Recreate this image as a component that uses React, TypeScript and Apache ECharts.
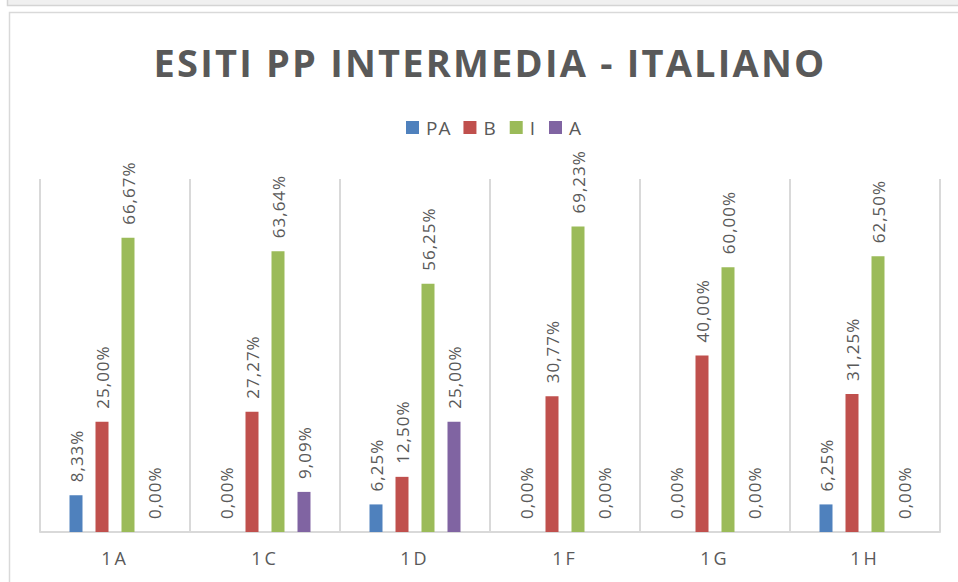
import React, { useEffect, useRef } from "react";
import * as echarts from "echarts";

const titleText = "ESITI PP INTERMEDIA - ITALIANO";
const categories = ["1A", "1C", "1D", "1F", "1G", "1H"];
const seriesNames = ["PA", "B", "I", "A"];
const paValues = [8.33, 0, 6.25, 0, 0, 6.25];
const bValues = [25.0, 27.27, 12.5, 30.77, 40.0, 31.25];
const iValues = [66.67, 63.64, 56.25, 69.23, 60.0, 62.5];
const aValues = [0, 9.09, 25.0, 0, 0, 0];
const seriesValues = [paValues, bValues, iValues, aValues];
const colors = ["#4f81bd", "#c0504d", "#9bbb59", "#8064a2"];

const TEXT = "#595959";
const FONT = "'Open Sans', sans-serif";

export default function App() {
  const ref = useRef<HTMLDivElement>(null);

  useEffect(() => {
    if (!ref.current) return;
    const chart = echarts.init(ref.current, null, { renderer: "svg" });
    const option: any = {
      animation: false,
      backgroundColor: "#ffffff",
      title: {
        text: titleText,
        left: 485,
        top: 38,
        textAlign: "center",
        textStyle: {
          fontFamily: FONT,
          fontSize: 38,
          fontWeight: "bold",
          color: TEXT,
        },
      },
      legend: {
        data: seriesNames,
        left: 406,
        top: 118,
        padding: 0,
        icon: "rect",
        itemWidth: 13,
        itemHeight: 13,
        itemGap: 14,
        textStyle: {
          fontFamily: FONT,
          fontSize: 19,
          color: TEXT,
          padding: [0, 0, 0, 2],
        },
      },
      grid: {
        left: 40,
        right: 18,
        top: 179,
        bottom: 50,
        containLabel: false,
      },
      xAxis: {
        type: "category",
        data: categories,
        boundaryGap: true,
        axisLine: { show: true, lineStyle: { color: "#d9d9d9", width: 2 } },
        axisTick: { show: false },
        axisLabel: {
          fontFamily: FONT,
          fontSize: 18,
          color: TEXT,
          margin: 17,
        },
        splitLine: {
          show: true,
          interval: 0,
          lineStyle: { color: "#d9d9d9", width: 2 },
        },
      },
      yAxis: {
        type: "value",
        min: 0,
        max: 80,
        interval: 10,
        show: false,
        splitLine: { show: false },
      },
      series: seriesNames.map((name, i) => ({
        name,
        type: "bar",
        data: seriesValues[i],
        barWidth: 13,
        barGap: "100%",
        itemStyle: { color: colors[i] },
        label: {
          show: true,
          position: "top",
          rotate: 90,
          align: "left",
          verticalAlign: "middle",
          distance: 13,
          fontFamily: FONT,
          fontSize: 17,
          color: TEXT,
          formatter: (p: any) => p.value.toFixed(2).replace(".", ",") + "%",
        },
      })),
      graphic: [
        {
          type: "rect",
          silent: true,
          shape: { x: 7.5, y: -6, width: 960, height: 11.5 },
          style: { fill: "#f0f0f0", stroke: "#d4d4d4", lineWidth: 1.5 },
        },
        {
          type: "rect",
          silent: true,
          shape: { x: 9.5, y: 12.5, width: 960, height: 600 },
          style: { fill: "none", stroke: "#d9d9d9", lineWidth: 1.5 },
        },
      ],
    };
    chart.setOption(option);
    return () => chart.dispose();
  }, []);

  return (
    <div style={{ position: "fixed", left: 0, top: 0, width: 958, height: 582, background: "#fff" }}>
      <style>{`
        .chart-host svg text { letter-spacing: 1px; }
        .chart-host svg text[style*="18px"] { letter-spacing: 3px; }
        .chart-host svg text[style*="bold"] { letter-spacing: 2.2px; }
      `}</style>
      <div className="chart-host" ref={ref} style={{ width: 958, height: 582 }} />
    </div>
  );
}
